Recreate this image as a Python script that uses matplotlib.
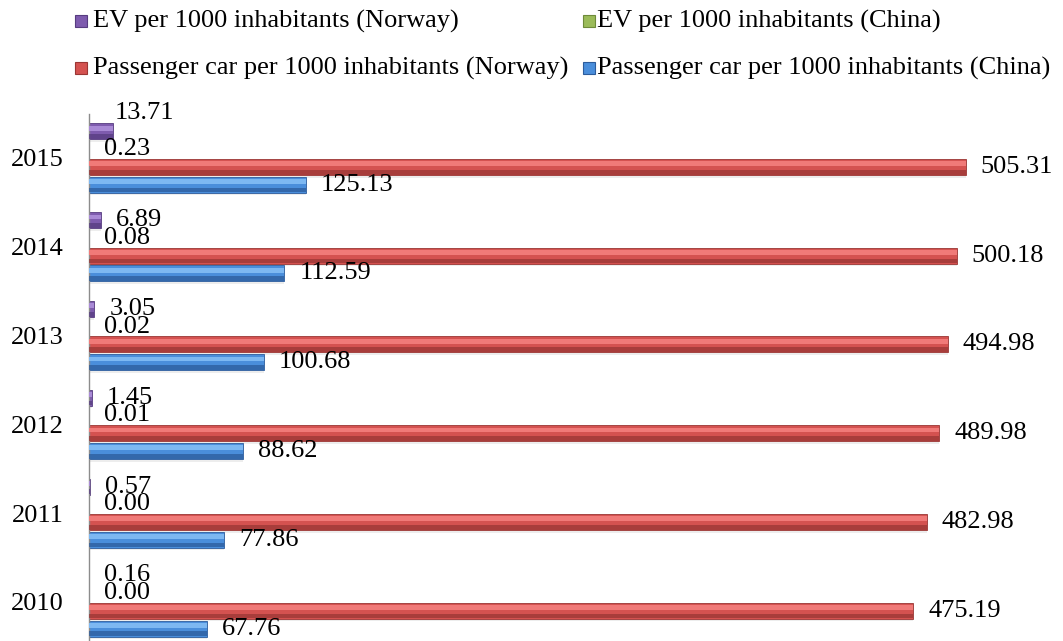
import matplotlib
matplotlib.use("Agg")
import matplotlib.pyplot as plt
from matplotlib.patches import Rectangle
import numpy as np

# ---- data ----
years = ["2010", "2011", "2012", "2013", "2014", "2015"]
ev_norway = [0.16, 0.57, 1.45, 3.05, 6.89, 13.71]
ev_china = [0.00, 0.00, 0.01, 0.02, 0.08, 0.23]
car_norway = [475.19, 482.98, 489.98, 494.98, 500.18, 505.31]
car_china = [67.76, 77.86, 88.62, 100.68, 112.59, 125.13]
series_names = [
    "EV per 1000 inhabitants (Norway)",
    "EV per 1000 inhabitants (China)",
    "Passenger car per 1000 inhabitants (Norway)",
    "Passenger car per 1000 inhabitants (China)",
]

# ---- style ----
FONT = "Liberation Serif"
FS = 19
colors = {
    "main": ["#7E5BAE", "#9BBB59", "#D45250", "#4A8EDB"],
    "light": ["#A98AD6", "#C3DF86", "#F07A78", "#7DB8F2"],
    "dark": ["#573C80", "#6E8A3A", "#9A3634", "#2C5C9C"],
}
offsets = [0.3, 0.1, -0.1, -0.3]
bar_h = 0.18

W, H = 1063, 641
fig = plt.figure(figsize=(W / 100, H / 100), dpi=100)
ax_top_px = 113.6
ax = fig.add_axes([89 / W, 0, 954 / W, (H - ax_top_px) / H])
ax.set_xlim(0, 954 / 1.735)
ax.set_ylim(-0.44, 5.5)

y = np.arange(len(years))
all_series = [ev_norway, ev_china, car_norway, car_china]
for k, vals in enumerate(all_series):
    pos = y + offsets[k]
    # soft shadow
    ax.barh(pos - 0.03, vals, height=bar_h, color="#000000", alpha=0.07,
            linewidth=0, zorder=1)
    # main bar
    ax.barh(pos, vals, height=bar_h, color=colors["main"][k],
            edgecolor=colors["dark"][k], linewidth=0.6, zorder=2)
    # bevel: lighter upper band, darker lower band
    ax.barh(pos + bar_h * 0.2, vals, height=bar_h * 0.3,
            color=colors["light"][k], linewidth=0, zorder=3)
    ax.barh(pos - bar_h * 0.33, vals, height=bar_h * 0.3,
            color=colors["dark"][k], linewidth=0, zorder=3, alpha=0.75)
    for i, v in enumerate(vals):
        dx, dy = 15 * 0.72, 0
        if k == 0 and i == len(years) - 1:
            dx, dy = 2 * 0.72, 18 * 0.72
        ax.annotate(f"{v:.2f}", xy=(v, pos[i]), xytext=(dx, dy),
                    textcoords="offset points", va="center", ha="left",
                    fontsize=FS, family=FONT, color="black", zorder=5)

ax.set_yticks(y)
ax.set_yticklabels(years, fontsize=FS, family=FONT)
ax.tick_params(axis="y", length=0, pad=18)
ax.set_xticks([])
for s in ["top", "right", "bottom"]:
    ax.spines[s].set_visible(False)
ax.spines["left"].set_color("#8C8C8C")
ax.spines["left"].set_linewidth(1.0)

# ---- legend (manual layout like the original) ----
legend_pos = [  # marker x, center y, text x (pixels)
    (75, 21, 93),
    (583, 21, 597),
    (75, 68, 93),
    (583, 68, 597),
]
for k, (mx, yc, tx) in enumerate(legend_pos):
    fig.add_artist(Rectangle((mx / W, 1 - (yc + 6) / H), 12 / W, 12 / H,
                             transform=fig.transFigure,
                             facecolor=colors["main"][k],
                             edgecolor=colors["dark"][k], linewidth=0.8))
    fig.text(tx / W, 1 - yc / H, series_names[k], va="center", ha="left",
             fontsize=FS, family=FONT)

fig.savefig("out.png", dpi=100)
